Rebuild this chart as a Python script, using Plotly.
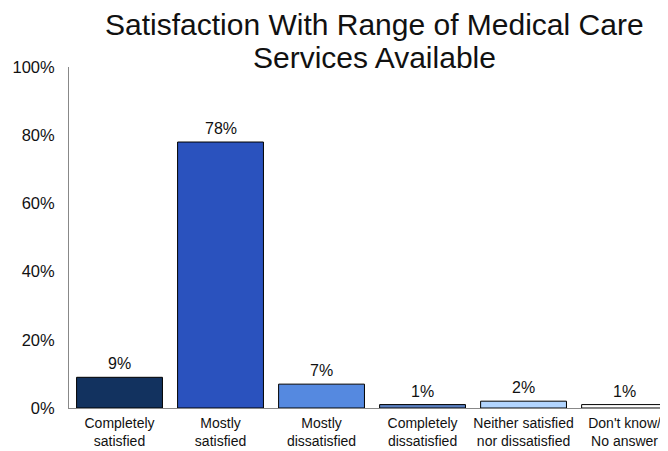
import plotly.graph_objects as go

categories = ["Completely<br>satisfied", "Mostly<br>satisfied", "Mostly<br>dissatisfied",
              "Completely<br>dissatisfied", "Neither satisfied<br>nor dissatisfied", "Don't know/<br>No answer"]
values = [9, 78, 7, 1, 2, 1]
value_labels = ["9%", "78%", "7%", "1%", "2%", "1%"]
colors = ["#12325F", "#2A52BE", "#5589E0", "#5A7FC0", "#B2D5FF", "#FFFFFF"]
y_ticks = [0, 20, 40, 60, 80, 100]
y_tick_labels = ["0%", "20%", "40%", "60%", "80%", "100%"]
title_lines = ["Satisfaction With Range of Medical Care", "Services Available"]

xs = list(range(len(categories)))
fig = go.Figure(go.Bar(
    x=xs, y=values,
    marker=dict(color=colors, line=dict(color="#000000", width=1)),
    width=0.85, hoverinfo="x+y",
))

font = dict(family="Liberation Sans, Arial, Helvetica", color="#111111")
# page body has an 8px default margin, so margins are reduced by 8px on left/top
fig.update_layout(
    width=668, height=451,
    margin=dict(l=61, r=8, t=59, b=51, autoexpand=False),
    paper_bgcolor="white", plot_bgcolor="white",
    showlegend=False,
    font=font,
    xaxis=dict(range=[-0.5, 5.43], tickvals=xs, ticktext=categories,
               showgrid=False, zeroline=False, showline=True, linecolor="#888888", linewidth=1,
               ticks="", automargin=False, ticklabelstandoff=2, tickfont=dict(size=14, **font)),
    yaxis=dict(range=[0, 100], tickvals=y_ticks, ticktext=y_tick_labels,
               showgrid=False, zeroline=False, showline=True, linecolor="#888888", linewidth=1,
               ticks="", ticklen=0, automargin=False, ticklabelstandoff=10,
               tickfont=dict(size=16.5, **font)),
)
for xi, v, lab in zip(xs, values, value_labels):
    fig.add_annotation(text=lab, x=xi, y=v, xref="x", yref="y", yanchor="bottom",
                       yshift=3, showarrow=False, font=dict(size=16, **font))
for txt, yy in zip(title_lines, [1.1232, 1.0293]):
    fig.add_annotation(text=txt, xref="paper", yref="paper", x=0.510, y=yy,
                       xanchor="center", yanchor="middle", showarrow=False,
                       font=dict(size=30, **font))

fig.write_html("out.html")
